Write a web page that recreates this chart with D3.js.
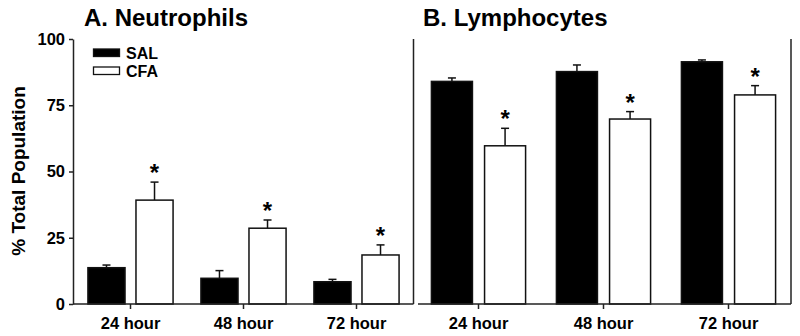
<!DOCTYPE html>
<html>
<head>
<meta charset="utf-8">
<script src="https://cdn.jsdelivr.net/npm/d3@7"></script>
<style>
body{margin:0;background:#fff;}
svg{display:block;}
text{font-family:"Liberation Sans",Arial,Helvetica,sans-serif;font-weight:bold;fill:#000;}
</style>
</head>
<body>
<svg id="chart" width="800" height="336"></svg>
<script>
const categories = ["24 hour", "48 hour", "72 hour"];
const groups = ["SAL", "CFA"];
const yTicks = [0, 25, 50, 75, 100];

const neutSAL = [13.7, 9.7, 8.4];
const neutSALErr = [1.0, 2.9, 0.9];
const neutCFA = [39.2, 28.6, 18.5];
const neutCFAErr = [6.8, 3.1, 3.8];

const lymphSAL = [84.0, 87.7, 91.4];
const lymphSALErr = [1.3, 2.5, 0.7];
const lymphCFA = [59.7, 69.8, 78.9];
const lymphCFAErr = [6.6, 2.8, 3.5];

const neutSig = [true, true, true];
const lymphSig = [true, true, true];

const svg = d3.select("#chart");
const y = d3.scaleLinear().domain([0, 100]).range([304, 39]);
const axisColor = "#222";

function panel(opts) {
  const x = d3.scaleBand().domain(categories).range(opts.range).padding(0);
  const xs = d3.scaleBand().domain(groups).range([0, x.bandwidth()])
    .paddingInner(0.228).paddingOuter(0.29);
  const g = svg.append("g");
  const rows = [];
  categories.forEach((c, i) => {
    rows.push({cat: c, grp: "SAL", v: opts.sal[i], e: opts.salErr[i], sig: false});
    rows.push({cat: c, grp: "CFA", v: opts.cfa[i], e: opts.cfaErr[i], sig: opts.sig[i]});
  });
  const cx = d => x(d.cat) + xs(d.grp) + xs.bandwidth() / 2;
  // error bars
  const eb = g.selectAll(".eb").data(rows).join("g");
  eb.append("line")
    .attr("x1", cx).attr("x2", cx)
    .attr("y1", d => y(d.v)).attr("y2", d => y(d.v + d.e))
    .attr("stroke", "#111").attr("stroke-width", 1.5);
  eb.append("line")
    .attr("x1", d => cx(d) - 4).attr("x2", d => cx(d) + 4)
    .attr("y1", d => y(d.v + d.e)).attr("y2", d => y(d.v + d.e))
    .attr("stroke", "#111").attr("stroke-width", 1.5);
  // bars
  g.selectAll(".bar").data(rows).join("rect")
    .attr("x", d => x(d.cat) + xs(d.grp))
    .attr("y", d => y(d.v))
    .attr("width", xs.bandwidth())
    .attr("height", d => y(0) - y(d.v))
    .attr("fill", d => d.grp === "SAL" ? "#000" : "#fff")
    .attr("stroke", "#111").attr("stroke-width", 1.5);
  // asterisks
  g.selectAll(".sig").data(rows.filter(d => d.sig)).join("text")
    .attr("x", cx)
    .attr("y", d => y(d.v + d.e) - 1)
    .attr("text-anchor", "middle")
    .style("font-size", "24px")
    .text("*");
  // x axis
  const xAxis = g.append("g").attr("transform", `translate(0,${y(0)})`)
    .call(d3.axisBottom(x).tickSize(5).tickSizeOuter(0).tickPadding(8));
  xAxis.select(".domain").remove();
  xAxis.selectAll(".tick line").attr("stroke", axisColor).attr("stroke-width", 1.5);
  xAxis.selectAll(".tick text").style("font-size", "16.5px")
    .style("font-family", '"Liberation Sans",Arial,sans-serif').attr("fill", "#000");
  g.append("line").attr("x1", opts.lineStart).attr("x2", opts.lineEnd)
    .attr("y1", y(0)).attr("y2", y(0))
    .attr("stroke", axisColor).attr("stroke-width", 1.5);
  // right frame line
  g.append("line").attr("x1", opts.lineEnd).attr("x2", opts.lineEnd)
    .attr("y1", y(0)).attr("y2", y(100))
    .attr("stroke", axisColor).attr("stroke-width", 1.5);
  // title
  g.append("text").attr("x", opts.titleX).attr("y", 26)
    .style("font-size", "24px").text(opts.title);
  return g;
}

panel({
  range: [74, 413], lineStart: 73, lineEnd: 413.5,
  sal: neutSAL, salErr: neutSALErr, cfa: neutCFA, cfaErr: neutCFAErr, sig: neutSig,
  title: "A. Neutrophils", titleX: 84
});
panel({
  range: [416, 791], lineStart: 418, lineEnd: 791,
  sal: lymphSAL, salErr: lymphSALErr, cfa: lymphCFA, cfaErr: lymphCFAErr, sig: lymphSig,
  title: "B. Lymphocytes", titleX: 423
});

// y axis for panel A
const yAxis = svg.append("g").attr("transform", "translate(73,0)")
  .call(d3.axisLeft(y).tickValues(yTicks).tickSize(4).tickPadding(4).tickSizeOuter(0));
yAxis.select(".domain").attr("stroke", axisColor).attr("stroke-width", 1.5);
yAxis.selectAll(".tick line").attr("stroke", axisColor).attr("stroke-width", 1.5);
yAxis.selectAll(".tick text").style("font-size", "16.5px")
  .style("font-family", '"Liberation Sans",Arial,sans-serif').attr("fill", "#000");

// y label
svg.append("text")
  .attr("transform", "translate(25,171) rotate(-90)")
  .attr("text-anchor", "middle")
  .style("font-size", "19px")
  .text("% Total Population");

// legend
const legend = svg.append("g").attr("transform", "translate(93,49)");
groups.forEach((gname, i) => {
  const row = legend.append("g").attr("transform", `translate(0,${i * 18})`);
  row.append("rect").attr("x", 0.5).attr("y", 0).attr("width", 26).attr("height", 7.5)
    .attr("fill", gname === "SAL" ? "#000" : "#fff")
    .attr("stroke", "#111").attr("stroke-width", 1.3);
  row.append("text").attr("x", 33).attr("y", 9.5)
    .style("font-size", "16px").text(gname);
});
</script>
</body>
</html>
